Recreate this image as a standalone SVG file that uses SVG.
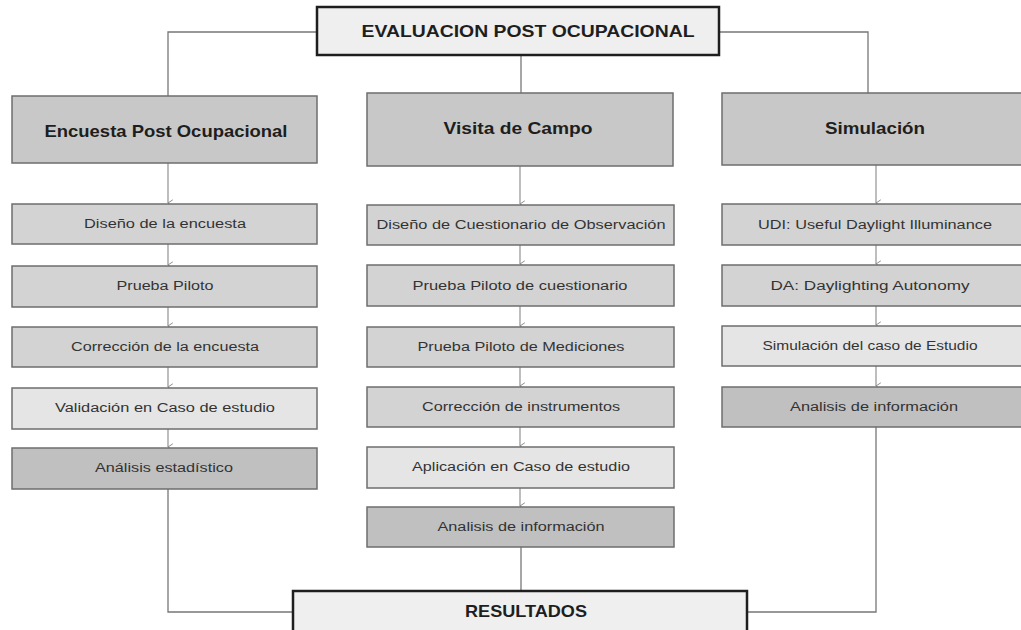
<svg xmlns="http://www.w3.org/2000/svg" width="1021" height="630" viewBox="0 0 1021 630">
<defs>
<marker id="arr" viewBox="0 0 10 10" refX="5" refY="9" markerWidth="8" markerHeight="8" orient="auto-start-reverse" markerUnits="userSpaceOnUse">
<path d="M1,3 L5,9 L9,3" fill="none" stroke="#888" stroke-width="1.2"/>
</marker>
<style>
.main{fill:#efefef;stroke:#1e1e1e;stroke-width:2.5}
.head{fill:#c8c8c8;stroke:#6e6e6e;stroke-width:1.5}
.mid{fill:#d3d3d3;stroke:#6e6e6e;stroke-width:1.5}
.lite{fill:#e5e5e5;stroke:#6e6e6e;stroke-width:1.5}
.dark{fill:#c0c0c0;stroke:#6e6e6e;stroke-width:1.5}
.tb{font-family:"Liberation Sans",Arial,sans-serif;font-weight:bold;font-size:16.5px;fill:#1e1e1e;text-anchor:middle}
.t{font-family:"Liberation Sans",Arial,sans-serif;font-size:12.5px;fill:#333;text-anchor:middle}
.c{fill:none;stroke:#777;stroke-width:1.3}
.a{fill:none;stroke:#888;stroke-width:1.1;marker-end:url(#arr)}
</style>
</defs>
<rect width="1021" height="630" fill="#ffffff"/>
<g id="connectors">
<path class="c" d="M317,32 H168 V96"/>
<path class="c" d="M719,32 H868 V93"/>
<path class="c" d="M521,55 V93"/>
<path class="a" d="M168,163 V203"/>
<path class="a" d="M520,166 V204"/>
<path class="a" d="M876,165 V203"/>
<path class="a" d="M168,244 V265"/>
<path class="a" d="M168,307 V326"/>
<path class="a" d="M168,367 V387"/>
<path class="a" d="M168,429 V447"/>
<path class="a" d="M520,245 V264"/>
<path class="a" d="M520,306 V326"/>
<path class="a" d="M520,367 V386"/>
<path class="a" d="M520,427 V446"/>
<path class="a" d="M520,488 V506"/>
<path class="a" d="M876,245 V264"/>
<path class="a" d="M876,306 V325"/>
<path class="a" d="M876,366 V386"/>
<path class="c" d="M168,489 V612 H293"/>
<path class="c" d="M521,547 V591"/>
<path class="c" d="M876,427 V612 H747"/>
</g>
<g id="evaluacion">
<rect class="main" x="317" y="7" width="402" height="48"/>
<text class="tb" x="528" y="37" textLength="333" lengthAdjust="spacingAndGlyphs">EVALUACION POST OCUPACIONAL</text>
</g>
<g id="encuesta">
<rect class="head" x="12" y="96" width="305" height="67"/>
<text class="tb" x="166" y="137" textLength="243" lengthAdjust="spacingAndGlyphs">Encuesta Post Ocupacional</text>
</g>
<g id="visita">
<rect class="head" x="367" y="93" width="306" height="73"/>
<text class="tb" x="518" y="134" textLength="149" lengthAdjust="spacingAndGlyphs">Visita de Campo</text>
</g>
<g id="simulacion">
<rect class="head" x="722" y="93" width="300" height="72"/>
<text class="tb" x="875" y="134" textLength="100" lengthAdjust="spacingAndGlyphs">Simulación</text>
</g>
<g id="e1"><rect class="mid" x="12" y="204" width="305" height="40"/><text class="t" x="165" y="228" textLength="162" lengthAdjust="spacingAndGlyphs">Diseño de la encuesta</text></g>
<g id="e2"><rect class="mid" x="12" y="266" width="305" height="41"/><text class="t" x="165" y="290" textLength="97" lengthAdjust="spacingAndGlyphs">Prueba Piloto</text></g>
<g id="e3"><rect class="mid" x="12" y="327" width="305" height="40"/><text class="t" x="165" y="351" textLength="188" lengthAdjust="spacingAndGlyphs">Corrección de la encuesta</text></g>
<g id="e4"><rect class="lite" x="12" y="388" width="305" height="41"/><text class="t" x="165" y="412" textLength="220" lengthAdjust="spacingAndGlyphs">Validación en Caso de estudio</text></g>
<g id="e5"><rect class="dark" x="12" y="448" width="305" height="41"/><text class="t" x="164" y="472" textLength="138" lengthAdjust="spacingAndGlyphs">Análisis estadístico</text></g>
<g id="v1"><rect class="mid" x="367" y="205" width="307" height="40"/><text class="t" x="521" y="229" textLength="289" lengthAdjust="spacingAndGlyphs">Diseño de Cuestionario de Observación</text></g>
<g id="v2"><rect class="mid" x="367" y="265" width="307" height="41"/><text class="t" x="520" y="290" textLength="215" lengthAdjust="spacingAndGlyphs">Prueba Piloto de cuestionario</text></g>
<g id="v3"><rect class="mid" x="367" y="327" width="307" height="40"/><text class="t" x="521" y="351" textLength="207" lengthAdjust="spacingAndGlyphs">Prueba Piloto de Mediciones</text></g>
<g id="v4"><rect class="mid" x="367" y="387" width="307" height="40"/><text class="t" x="521" y="411" textLength="198" lengthAdjust="spacingAndGlyphs">Corrección de instrumentos</text></g>
<g id="v5"><rect class="lite" x="367" y="447" width="307" height="41"/><text class="t" x="521" y="471" textLength="218" lengthAdjust="spacingAndGlyphs">Aplicación en Caso de estudio</text></g>
<g id="v6"><rect class="dark" x="367" y="507" width="307" height="40"/><text class="t" x="521" y="531" textLength="167" lengthAdjust="spacingAndGlyphs">Analisis de información</text></g>
<g id="s1"><rect class="mid" x="722" y="204" width="300" height="41"/><text class="t" x="875" y="229" textLength="234" lengthAdjust="spacingAndGlyphs">UDI: Useful Daylight Illuminance</text></g>
<g id="s2"><rect class="mid" x="722" y="265" width="300" height="41"/><text class="t" x="870" y="290" textLength="199" lengthAdjust="spacingAndGlyphs">DA: Daylighting Autonomy</text></g>
<g id="s3"><rect class="lite" x="722" y="326" width="300" height="40"/><text class="t" x="870" y="350" textLength="215" lengthAdjust="spacingAndGlyphs">Simulación del caso de Estudio</text></g>
<g id="s4"><rect class="dark" x="722" y="387" width="300" height="40"/><text class="t" x="874" y="411" textLength="168" lengthAdjust="spacingAndGlyphs">Analisis de información</text></g>
<g id="resultados">
<rect class="main" x="293" y="591" width="454" height="50"/>
<text class="tb" x="526" y="617" textLength="122" lengthAdjust="spacingAndGlyphs">RESULTADOS</text>
</g>
</svg>
